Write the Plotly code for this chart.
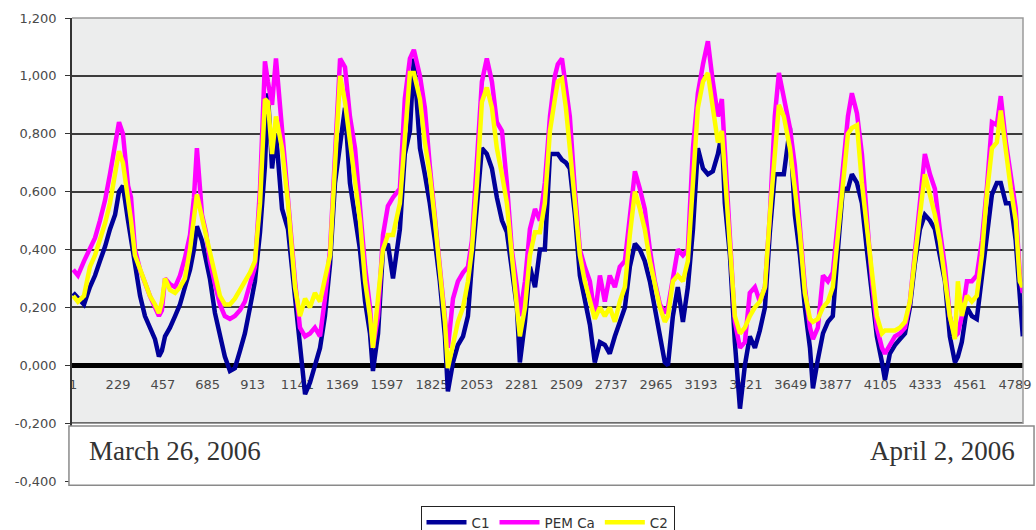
import plotly.graph_objects as go

# sample index (category number) of each read point
sample_index = [1, 25, 56, 86, 112, 137, 163, 188, 214, 234, 254, 280, 295, 315, 341, 366, 391, 417, 437, 452,
                468, 493, 519, 544, 569, 595, 615, 630, 656, 676, 696, 722, 747, 772, 798, 823, 849, 874, 900, 925,
                951, 976, 991, 1012, 1032, 1063, 1093, 1129, 1154, 1180, 1205, 1230, 1256, 1281, 1307, 1332, 1358, 1383, 1408, 1434,
                1459, 1485, 1510, 1525, 1551, 1576, 1601, 1627, 1662, 1687, 1713, 1733, 1764, 1789, 1814, 1840, 1865, 1891, 1906, 1932,
                1957, 1983, 2008, 2028, 2054, 2079, 2104, 2130, 2155, 2181, 2206, 2231, 2257, 2272, 2298, 2323, 2349, 2374, 2399, 2425,
                2450, 2465, 2486, 2506, 2526, 2552, 2577, 2602, 2628, 2653, 2679, 2704, 2729, 2755, 2780, 2806, 2831, 2857, 2882, 2907,
                2933, 2958, 2984, 3009, 3025, 3050, 3075, 3101, 3126, 3152, 3177, 3203, 3228, 3253, 3279, 3299, 3314, 3340, 3365, 3391,
                3416, 3441, 3467, 3492, 3518, 3543, 3568, 3589, 3614, 3645, 3670, 3696, 3721, 3747, 3762, 3787, 3813, 3838, 3863, 3889,
                3914, 3940, 3960, 3986, 4011, 4036, 4062, 4087, 4113, 4128, 4153, 4179, 4204, 4230, 4255, 4280, 4306, 4331, 4357, 4382,
                4407, 4433, 4458, 4484, 4499, 4519, 4545, 4570, 4595, 4621, 4646, 4672, 4697, 4717, 4743, 4768, 4793, 4814, 4829]

pem_ca = [0.33, 0.31, 0.36, 0.40, 0.44, 0.50, 0.57, 0.66, 0.76, 0.84, 0.80, 0.62, 0.58, 0.40, 0.33, 0.28, 0.24, 0.20, 0.17, 0.19,
          0.30, 0.28, 0.27, 0.31, 0.37, 0.45, 0.58, 0.75, 0.52, 0.46, 0.36, 0.28, 0.21, 0.17, 0.16, 0.17, 0.19, 0.22, 0.28, 0.34,
          0.61, 1.05, 0.98, 0.90, 1.06, 0.80, 0.58, 0.29, 0.13, 0.10, 0.11, 0.13, 0.10, 0.23, 0.40, 0.75, 1.06, 1.03, 0.86, 0.75,
          0.56, 0.34, 0.20, 0.06, 0.17, 0.45, 0.55, 0.58, 0.61, 0.92, 1.06, 1.09, 1.00, 0.89, 0.69, 0.52, 0.35, 0.17, 0.06, 0.23,
          0.29, 0.32, 0.34, 0.43, 0.69, 0.98, 1.06, 0.98, 0.84, 0.81, 0.63, 0.40, 0.27, 0.17, 0.29, 0.47, 0.54, 0.50, 0.63, 0.86,
          1.00, 1.04, 1.06, 0.96, 0.86, 0.60, 0.40, 0.34, 0.29, 0.17, 0.31, 0.22, 0.31, 0.27, 0.34, 0.36, 0.52, 0.67, 0.61, 0.54,
          0.40, 0.29, 0.21, 0.18, 0.20, 0.31, 0.40, 0.38, 0.40, 0.75, 0.94, 1.04, 1.12, 0.98, 0.86, 0.92, 0.75, 0.46, 0.15, 0.06,
          0.08, 0.25, 0.27, 0.22, 0.27, 0.52, 0.86, 1.01, 0.93, 0.82, 0.69, 0.47, 0.27, 0.13, 0.09, 0.13, 0.31, 0.29, 0.32, 0.50,
          0.69, 0.86, 0.94, 0.87, 0.73, 0.52, 0.29, 0.13, 0.06, 0.04, 0.07, 0.10, 0.11, 0.13, 0.22, 0.40, 0.56, 0.73, 0.66, 0.61,
          0.47, 0.34, 0.17, 0.10, 0.11, 0.17, 0.29, 0.29, 0.31, 0.43, 0.61, 0.84, 0.83, 0.93, 0.77, 0.66, 0.54, 0.31, 0.25]

c2 = [0.24, 0.22, 0.24, 0.34, 0.38, 0.43, 0.49, 0.56, 0.66, 0.74, 0.70, 0.58, 0.50, 0.38, 0.33, 0.28, 0.24, 0.21, 0.18, 0.22,
      0.30, 0.26, 0.25, 0.27, 0.30, 0.40, 0.52, 0.59, 0.51, 0.45, 0.38, 0.30, 0.24, 0.21, 0.21, 0.23, 0.26, 0.29, 0.32, 0.36,
      0.56, 0.92, 0.91, 0.73, 0.86, 0.75, 0.56, 0.27, 0.17, 0.23, 0.20, 0.25, 0.22, 0.30, 0.38, 0.69, 1.00, 0.91, 0.77, 0.61,
      0.50, 0.29, 0.17, 0.06, 0.22, 0.40, 0.45, 0.45, 0.56, 0.77, 1.01, 1.01, 0.92, 0.77, 0.66, 0.50, 0.34, 0.15, -0.01, 0.07,
      0.15, 0.20, 0.29, 0.40, 0.63, 0.91, 0.96, 0.89, 0.75, 0.66, 0.56, 0.38, 0.22, 0.10, 0.20, 0.38, 0.46, 0.46, 0.56, 0.81,
      0.92, 0.98, 0.99, 0.89, 0.75, 0.56, 0.38, 0.29, 0.22, 0.16, 0.20, 0.17, 0.20, 0.15, 0.22, 0.27, 0.45, 0.60, 0.54, 0.47,
      0.36, 0.28, 0.20, 0.15, 0.17, 0.29, 0.31, 0.29, 0.36, 0.63, 0.89, 0.98, 1.01, 0.89, 0.77, 0.81, 0.66, 0.40, 0.17, 0.11,
      0.13, 0.17, 0.20, 0.22, 0.27, 0.52, 0.75, 0.90, 0.86, 0.75, 0.61, 0.45, 0.25, 0.16, 0.15, 0.16, 0.20, 0.22, 0.27, 0.46,
      0.63, 0.80, 0.82, 0.83, 0.63, 0.47, 0.31, 0.17, 0.11, 0.12, 0.12, 0.12, 0.13, 0.15, 0.22, 0.38, 0.52, 0.66, 0.59, 0.52,
      0.43, 0.31, 0.17, 0.09, 0.29, 0.17, 0.24, 0.22, 0.24, 0.38, 0.59, 0.75, 0.77, 0.88, 0.73, 0.61, 0.50, 0.29, 0.27]

c1 = [0.25, 0.23, 0.21, 0.27, 0.31, 0.36, 0.41, 0.47, 0.52, 0.60, 0.62, 0.50, 0.44, 0.34, 0.24, 0.17, 0.13, 0.09, 0.03, 0.05,
      0.10, 0.13, 0.17, 0.21, 0.27, 0.33, 0.40, 0.48, 0.43, 0.37, 0.30, 0.18, 0.10, 0.03, -0.02, -0.01, 0.05, 0.11, 0.20, 0.29,
      0.46, 0.69, 0.94, 0.68, 0.80, 0.54, 0.47, 0.23, 0.06, -0.10, -0.06, 0.00, 0.06, 0.17, 0.35, 0.63, 0.75, 0.89, 0.63, 0.52,
      0.40, 0.22, 0.11, -0.02, 0.11, 0.40, 0.42, 0.30, 0.47, 0.73, 0.81, 1.06, 0.75, 0.66, 0.56, 0.43, 0.29, 0.10, -0.09, 0.01,
      0.07, 0.10, 0.17, 0.35, 0.56, 0.75, 0.73, 0.68, 0.58, 0.50, 0.46, 0.34, 0.20, 0.01, 0.15, 0.34, 0.27, 0.40, 0.40, 0.73,
      0.73, 0.73, 0.71, 0.70, 0.68, 0.52, 0.31, 0.22, 0.14, 0.01, 0.08, 0.07, 0.04, 0.10, 0.15, 0.20, 0.34, 0.42, 0.40, 0.36,
      0.29, 0.20, 0.11, 0.01, 0.00, 0.17, 0.27, 0.15, 0.27, 0.47, 0.75, 0.68, 0.66, 0.67, 0.73, 0.80, 0.56, 0.38, 0.08, -0.15,
      0.00, 0.10, 0.06, 0.12, 0.20, 0.46, 0.66, 0.66, 0.66, 0.82, 0.52, 0.38, 0.20, 0.06, -0.08, 0.02, 0.11, 0.15, 0.17, 0.40,
      0.61, 0.61, 0.66, 0.63, 0.56, 0.40, 0.23, 0.10, 0.01, -0.05, 0.04, 0.07, 0.09, 0.11, 0.20, 0.35, 0.47, 0.52, 0.50, 0.47,
      0.38, 0.29, 0.10, 0.01, 0.03, 0.08, 0.20, 0.17, 0.16, 0.31, 0.47, 0.59, 0.63, 0.63, 0.56, 0.56, 0.43, 0.23, 0.10]

x_tick_values = [1, 229, 457, 685, 913, 1141, 1369, 1597, 1825, 2053, 2281, 2509, 2737, 2965,
                 3193, 3421, 3649, 3877, 4105, 4333, 4561, 4789]
x_tick_labels = [str(v) for v in x_tick_values]
y_tick_values = [-0.4, -0.2, 0.0, 0.2, 0.4, 0.6, 0.8, 1.0, 1.2]
y_tick_labels = ["-0,400", "-0,200", "0,000", "0,200", "0,400", "0,600", "0,800", "1,000", "1,200"]
start_label = "March 26, 2006"
end_label = "April 2, 2006"

series = [("C1", c1, "#000099"), ("PEM Ca", pem_ca, "#FF00FF"), ("C2", c2, "#FFFF00")]

fig = go.Figure()
for name, vals, col in series:
    fig.add_trace(go.Scatter(x=sample_index, y=vals, mode="lines", name=name,
                             line=dict(color=col, width=4.5)))

tick_font = dict(family="DejaVu Sans", size=13, color="#4a4a4a")

fig.update_layout(
    width=1036, height=530,
    margin=dict(l=72, r=13, t=18, b=49, autoexpand=False),
    paper_bgcolor="white",
    plot_bgcolor="white",
    showlegend=True,
    legend=dict(orientation="h", x=0.5, xanchor="center", y=-0.054, yanchor="top",
                bordercolor="#222222", borderwidth=1, bgcolor="white",
                font=dict(family="DejaVu Sans", size=13.5, color="#333333"),
                itemwidth=40, tracegroupgap=0),
    xaxis=dict(range=[-5, 4830], tickmode="array", tickvals=x_tick_values, ticktext=x_tick_labels,
               anchor="free", position=0.25, showgrid=False, zeroline=False, showline=False,
               ticks="outside", ticklen=7, tickcolor="rgba(0,0,0,0)", tickfont=tick_font,
               layer="below traces"),
    yaxis=dict(range=[-0.4, 1.2], tickmode="array", tickvals=y_tick_values, ticktext=y_tick_labels,
               showgrid=True, gridcolor="#3c3c3c", gridwidth=1.5,
               zeroline=True, zerolinecolor="#000000", zerolinewidth=5,
               showline=True, linecolor="#333333", linewidth=1.5,
               ticks="outside", ticklen=5, tickcolor="#333333", tickfont=tick_font,
               ticklabelstandoff=6),
)

# plot-area background (from -0.2 to 1.2)
fig.add_shape(type="rect", xref="x domain", yref="y", x0=0, x1=1, y0=-0.2, y1=1.2,
              fillcolor="#ECEDED", line=dict(width=0), layer="below")
# light border at top/right/bottom of plot area
fig.add_shape(type="path", xref="paper", yref="paper",
              path="M 0 1 L 1 1 L 1 0.125 L 0 0.125",
              line=dict(color="#9a9a9a", width=1.5), layer="above")
# date box
fig.add_shape(type="rect", xref="paper", yref="paper", x0=-0.0032, x1=1.0116, y0=-0.009, y1=0.119,
              fillcolor="white", line=dict(color="#8a8a8a", width=1.5), layer="above")
fig.add_annotation(xref="paper", yref="paper", x=0.0158, y=0.064, xanchor="left", yanchor="middle",
                   text=start_label, showarrow=False,
                   font=dict(family="Liberation Serif", size=27, color="#333333"))
fig.add_annotation(xref="paper", yref="paper", x=0.994, y=0.064, xanchor="right", yanchor="middle",
                   text=end_label, showarrow=False,
                   font=dict(family="Liberation Serif", size=27, color="#333333"))

fig.write_html("out.html")
